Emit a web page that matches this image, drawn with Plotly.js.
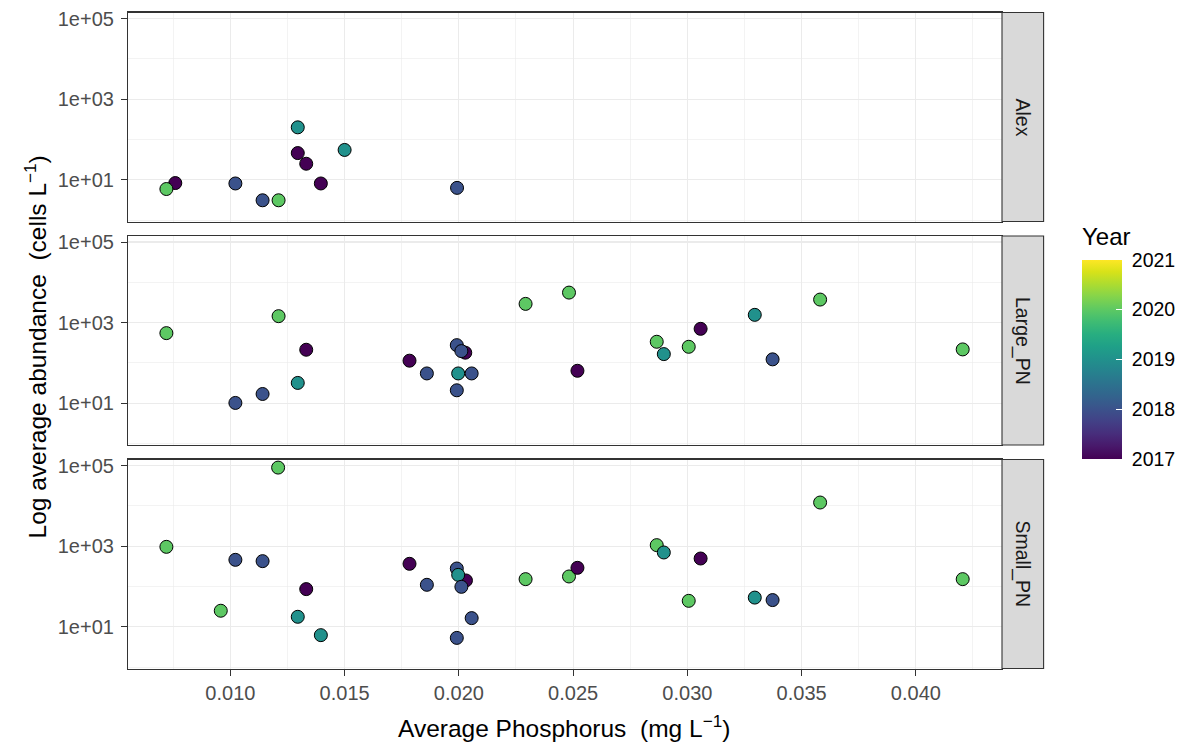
<!DOCTYPE html>
<html>
<head>
<meta charset="utf-8">
<script src="https://cdn.plot.ly/plotly-3.0.1.min.js"></script>
<style>html,body{margin:0;padding:0;background:#fff;}#chart{width:1182px;height:746px;}</style>
</head>
<body>
<div id="chart"></div>
<script>
// ---- Data ----
const panelNames = ["Alex", "Large_PN", "Small_PN"];

const alexP     = [0.00759, 0.00720, 0.01022, 0.01141, 0.01211, 0.01295, 0.01295, 0.01332, 0.01500, 0.01396, 0.01992];
const alexAbund = [8.3, 5.9, 8.1, 3.1, 3.1, 200, 46, 25, 55, 8.1, 6.3];
const alexYear  = [2017, 2020, 2018, 2018, 2020, 2019, 2017, 2017, 2019, 2017, 2018];

const largeP     = [0.00720, 0.01211, 0.01332, 0.01295, 0.01022, 0.01141, 0.01784, 0.01860, 0.02028, 0.01991, 0.02011, 0.01997, 0.02056, 0.01991, 0.02292, 0.02482, 0.02519, 0.02866, 0.02897, 0.03006, 0.03058, 0.03295, 0.03373, 0.03581, 0.04205];
const largeAbund = [550, 1450, 213, 32, 10.2, 17, 114, 55, 180, 277, 197, 55, 55, 21, 2924, 5570, 64, 336, 166, 252, 703, 1563, 123, 3740, 217];
const largeYear  = [2020, 2020, 2017, 2019, 2018, 2018, 2017, 2018, 2017, 2018, 2018, 2019, 2018, 2018, 2020, 2020, 2017, 2020, 2019, 2020, 2017, 2019, 2018, 2020, 2020];

const smallP     = [0.01209, 0.00720, 0.01022, 0.01141, 0.01332, 0.00958, 0.01295, 0.01396, 0.01784, 0.01860, 0.01991, 0.02031, 0.01997, 0.02011, 0.02056, 0.01991, 0.02292, 0.02482, 0.02519, 0.02866, 0.02897, 0.03058, 0.03006, 0.03295, 0.03373, 0.03581, 0.04205];
const smallAbund = [89000, 962, 458, 425, 86, 25, 17.7, 6.2, 365, 110, 279, 141, 194, 98, 16.4, 5.3, 152, 177, 290, 1060, 697, 494, 44, 53, 46, 12100, 152];
const smallYear  = [2020, 2020, 2018, 2018, 2017, 2020, 2019, 2019, 2017, 2018, 2018, 2017, 2019, 2018, 2018, 2018, 2020, 2020, 2017, 2020, 2019, 2017, 2020, 2019, 2018, 2020, 2020];

const xTickVals = [0.010, 0.015, 0.020, 0.025, 0.030, 0.035, 0.040];
const xTickText = ["0.010", "0.015", "0.020", "0.025", "0.030", "0.035", "0.040"];
const xMinorVals = [0.0075, 0.0125, 0.0175, 0.0225, 0.0275, 0.0325, 0.0375, 0.0425];
const yTickVals = [10, 1000, 100000];
const yTickText = ["1e+01", "1e+03", "1e+05"];
const yMinorVals = [1, 100, 10000];
const yearTicks = [2017, 2018, 2019, 2020, 2021];

// ---- Build ----
const FONT = "Liberation Sans, Arial, Helvetica, sans-serif";
const panels = [
  {x: alexP, y: alexAbund, c: alexYear},
  {x: largeP, y: largeAbund, c: largeYear},
  {x: smallP, y: smallAbund, c: smallYear}
];
const suffix = ["", "2", "3"];

const traces = panels.map((p, i) => ({
  type: "scatter", mode: "markers",
  x: p.x, y: p.y,
  xaxis: "x" + suffix[i], yaxis: "y" + suffix[i],
  marker: {size: 13, color: p.c, coloraxis: "coloraxis", line: {color: "#000000", width: 1}},
  hoverinfo: "x+y"
}));

const W = 1182, H = 746;
const mL = 128, mR = 180, mT = 12, mB = 77;
const plotH = H - mT - mB, plotW = W - mL - mR;
const bottomPx = H - mB;
function dom(topPx, botPx) { return [(bottomPx - botPx) / plotH, (bottomPx - topPx) / plotH]; }
const domains = [dom(12.5, 221.5), dom(236, 445), dom(459.5, 668.5)];

const common = {
  showline: true, mirror: true, linecolor: "#333333", linewidth: 1.1,
  showgrid: true, gridcolor: "#ebebeb", gridwidth: 1.2, zeroline: false,
  tickcolor: "#333333", tickwidth: 1.1, ticklen: 6,
  tickfont: {family: FONT, size: 20, color: "#4d4d4d"}
};

const layout = {
  width: W, height: H,
  margin: {l: mL, r: mR, t: mT, b: mB, pad: 0},
  paper_bgcolor: "#ffffff", plot_bgcolor: "#ffffff",
  showlegend: false,
  font: {family: FONT, size: 19, color: "#4d4d4d"},
  coloraxis: {
    colorscale: "Viridis", cmin: 2017, cmax: 2021,
    colorbar: {
      thickness: 40, thicknessmode: "pixels",
      len: 199, lenmode: "pixels",
      x: 1082 / W, xref: "container", xanchor: "left",
      y: 0.453, yref: "container", yanchor: "middle",
      xpad: 0, ypad: 0, outlinewidth: 0,
      tickmode: "array", tickvals: yearTicks, ticktext: yearTicks.map(v => "\u00a0" + v),
      ticks: "inside", tickcolor: "#ffffff", ticklen: 6, tickwidth: 1.2,
      tickfont: {family: FONT, size: 19.5, color: "#000000"}
    }
  },
  shapes: [],
  annotations: []
};

const xRange = [0.00552, 0.04377];
const yRange = [-0.035, 5.15];

for (let i = 0; i < 3; i++) {
  const s = suffix[i];
  const isBottom = i === 2;
  layout["xaxis" + s] = Object.assign({}, common, {
    anchor: "y" + s, domain: [0, 1], range: xRange,
    tickmode: "array", tickvals: xTickVals, ticktext: xTickText,
    ticks: isBottom ? "outside" : "", showticklabels: isBottom,
    minor: {tickmode: "array", tickvals: xMinorVals, showgrid: true, gridcolor: "#ebebeb", gridwidth: 0.6, ticks: ""}
  });
  layout["yaxis" + s] = Object.assign({}, common, {
    anchor: "x" + s, domain: domains[i], type: "log", range: yRange,
    tickmode: "array", tickvals: yTickVals, ticktext: yTickText,
    ticks: "outside", showticklabels: true, ticklabelstandoff: 3,
    minor: {tickmode: "array", tickvals: yMinorVals, showgrid: true, gridcolor: "#ebebeb", gridwidth: 0.6, ticks: ""}
  });
  // facet strip
  layout.shapes.push({
    type: "rect", xref: "paper", yref: "y" + s + " domain",
    x0: 1.0, x1: (1043.6 - mL) / plotW, y0: 0, y1: 1,
    fillcolor: "#d9d9d9", line: {color: "#333333", width: 1.1}, layer: "above"
  });
  layout.annotations.push({
    xref: "paper", yref: "y" + s + " domain",
    x: (1022.5 - mL) / plotW, y: 0.5, xanchor: "center", yanchor: "middle",
    text: panelNames[i], textangle: 90, showarrow: false,
    font: {family: FONT, size: 19.5, color: "#1a1a1a"}
  });
}

// colourbar title
layout.annotations.push({
  xref: "paper", yref: "paper",
  x: (1080 - mL) / plotW, y: (bottomPx - 236) / plotH,
  xanchor: "left", yanchor: "middle", showarrow: false,
  text: "Year",
  font: {family: FONT, size: 24, color: "#000000"}
});
layout.annotations.push({
  xref: "paper", yref: "paper",
  x: (35 - mL) / plotW, y: (bottomPx - 347.5) / plotH,
  xanchor: "center", yanchor: "middle", textangle: -90, showarrow: false,
  text: "Log average abundance  (cells L<sup>\u22121</sup>)",
  font: {family: FONT, size: 24.5, color: "#000000"}
});
layout.annotations.push({
  xref: "paper", yref: "paper",
  x: (564 - mL) / plotW, y: (bottomPx - 726) / plotH,
  xanchor: "center", yanchor: "middle", showarrow: false,
  text: "Average Phosphorus  (mg L<sup>\u22121</sup>)",
  font: {family: FONT, size: 24.5, color: "#000000"}
});

Plotly.newPlot("chart", traces, layout, {displayModeBar: false, staticPlot: true});
</script>
</body>
</html>
